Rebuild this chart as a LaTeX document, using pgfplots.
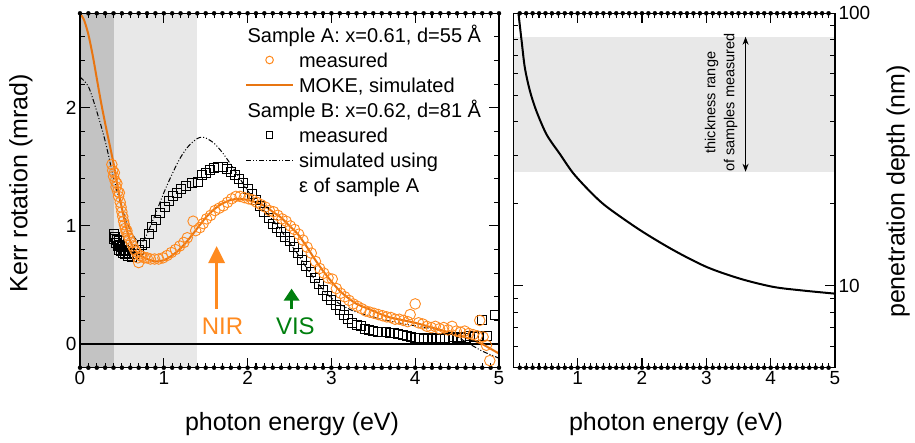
\documentclass[border=0pt]{standalone}
\usepackage{fontspec}
\setmainfont{Liberation Sans}
\usepackage{pgfplots}
\pgfplotsset{compat=1.18}
\usetikzlibrary{arrows.meta}
\definecolor{orM}{HTML}{FF8A1F}
\definecolor{orL}{HTML}{E87511}
\definecolor{gD}{HTML}{C3C3C3}
\definecolor{gL}{HTML}{E8E8E8}
\definecolor{grn}{HTML}{007F0E}
\pgfplotsset{
  common/.style={
    scale only axis,
    height=354.4pt,
    axis on top,
    /pgf/number format/assume math mode=true,
    tick label style={font=\fontsize{19}{22}\selectfont},
    label style={font=\fontsize{25}{29}\selectfont},
    axis line style={line width=1.3pt},
    major tick length=10pt,
    minor tick length=5pt,
    tick style={black, line width=1.1pt},
    tick align=inside,
    xmin=0, xmax=5,
  },
  tickbar/.style={forget plot, only marks, mark=none,
    error bars/.cd, y dir=#1, y explicit, error mark=none,
    error bar style={black, line width=1.1pt, solid}},
  legline/.style={legend image code/.code={\draw[mark repeat=2,mark phase=2,##1] plot coordinates {(0pt,0pt) (23.5pt,0pt) (47pt,0pt)};}},
  legmark/.style={legend image code/.code={\draw[##1] plot coordinates {(23.5pt,0pt)};}},
}
\begin{document}
\begin{tikzpicture}
\path[use as bounding box] (0,0) rectangle (915pt,443pt);
% ---------------- left axis
\begin{axis}[common,
  at={(80pt,75.3pt)}, anchor=south west,
  width=419pt,
  ymin=-0.2, ymax=2.8,
  xtick={0,1,2,3,4,5},
  ytick={0,1,2},
  minor ytick={-0.2,0.2,0.4,0.6,0.8,1.2,1.4,1.6,1.8,2.2,2.4,2.6},
  ytick pos=both,
  xlabel={photon energy (eV)},
  ylabel={Kerr rotation (mrad)},
  xlabel style={at={(axis description cs:0.506,-0.160)}, anchor=center},
  ylabel style={at={(axis description cs:-0.141,0.52)}, anchor=center},
  legend cell align=left,
  legline,
  legend style={draw=none, fill=none, inner sep=0pt, outer sep=0pt,
    at={(axis description cs:0.394,0.974)}, anchor=north west,
    font=\fontsize{20}{24}\selectfont, column sep=5pt, row sep=0pt,
    nodes={inner sep=0pt, text height=19.5pt, text depth=5.5pt}},
]
% shaded regions
\addplot[fill=gD, draw=none, forget plot] coordinates {(0,-0.2) (0.4,-0.2) (0.4,2.8) (0,2.8)} -- cycle;
\addplot[fill=gL, draw=none, forget plot] coordinates {(0.4,-0.2) (1.4,-0.2) (1.4,2.8) (0.4,2.8)} -- cycle;
% x tick marks (bottom and top)
\addplot[tickbar=plus] coordinates {
(0,-0.2) +- (0,0.0847) (1,-0.2) +- (0,0.0847) (2,-0.2) +- (0,0.0847) (3,-0.2) +- (0,0.0847) (4,-0.2) +- (0,0.0847) (5,-0.2) +- (0,0.0847)
};
\addplot[tickbar=plus] coordinates {
(0.1,-0.2) +- (0,0.0423) (0.2,-0.2) +- (0,0.0423) (0.3,-0.2) +- (0,0.0423) (0.4,-0.2) +- (0,0.0423) (0.5,-0.2) +- (0,0.0423)
(0.6,-0.2) +- (0,0.0423) (0.7,-0.2) +- (0,0.0423) (0.8,-0.2) +- (0,0.0423) (0.9,-0.2) +- (0,0.0423)
(1.1,-0.2) +- (0,0.0423) (1.2,-0.2) +- (0,0.0423) (1.3,-0.2) +- (0,0.0423) (1.4,-0.2) +- (0,0.0423) (1.5,-0.2) +- (0,0.0423)
(1.6,-0.2) +- (0,0.0423) (1.7,-0.2) +- (0,0.0423) (1.8,-0.2) +- (0,0.0423) (1.9,-0.2) +- (0,0.0423)
(2.1,-0.2) +- (0,0.0423) (2.2,-0.2) +- (0,0.0423) (2.3,-0.2) +- (0,0.0423) (2.4,-0.2) +- (0,0.0423) (2.5,-0.2) +- (0,0.0423)
(2.6,-0.2) +- (0,0.0423) (2.7,-0.2) +- (0,0.0423) (2.8,-0.2) +- (0,0.0423) (2.9,-0.2) +- (0,0.0423)
(3.1,-0.2) +- (0,0.0423) (3.2,-0.2) +- (0,0.0423) (3.3,-0.2) +- (0,0.0423) (3.4,-0.2) +- (0,0.0423) (3.5,-0.2) +- (0,0.0423)
(3.6,-0.2) +- (0,0.0423) (3.7,-0.2) +- (0,0.0423) (3.8,-0.2) +- (0,0.0423) (3.9,-0.2) +- (0,0.0423)
(4.1,-0.2) +- (0,0.0423) (4.2,-0.2) +- (0,0.0423) (4.3,-0.2) +- (0,0.0423) (4.4,-0.2) +- (0,0.0423) (4.5,-0.2) +- (0,0.0423)
(4.6,-0.2) +- (0,0.0423) (4.7,-0.2) +- (0,0.0423) (4.8,-0.2) +- (0,0.0423) (4.9,-0.2) +- (0,0.0423)
};
\addplot[tickbar=minus] coordinates {
(0,2.8) +- (0,0.0847) (1,2.8) +- (0,0.0847) (2,2.8) +- (0,0.0847) (3,2.8) +- (0,0.0847) (4,2.8) +- (0,0.0847) (5,2.8) +- (0,0.0847)
};
\addplot[tickbar=minus] coordinates {
(0.1,2.8) +- (0,0.0423) (0.2,2.8) +- (0,0.0423) (0.3,2.8) +- (0,0.0423) (0.4,2.8) +- (0,0.0423) (0.5,2.8) +- (0,0.0423)
(0.6,2.8) +- (0,0.0423) (0.7,2.8) +- (0,0.0423) (0.8,2.8) +- (0,0.0423) (0.9,2.8) +- (0,0.0423)
(1.1,2.8) +- (0,0.0423) (1.2,2.8) +- (0,0.0423) (1.3,2.8) +- (0,0.0423) (1.4,2.8) +- (0,0.0423) (1.5,2.8) +- (0,0.0423)
(1.6,2.8) +- (0,0.0423) (1.7,2.8) +- (0,0.0423) (1.8,2.8) +- (0,0.0423) (1.9,2.8) +- (0,0.0423)
(2.1,2.8) +- (0,0.0423) (2.2,2.8) +- (0,0.0423) (2.3,2.8) +- (0,0.0423) (2.4,2.8) +- (0,0.0423) (2.5,2.8) +- (0,0.0423)
(2.6,2.8) +- (0,0.0423) (2.7,2.8) +- (0,0.0423) (2.8,2.8) +- (0,0.0423) (2.9,2.8) +- (0,0.0423)
(3.1,2.8) +- (0,0.0423) (3.2,2.8) +- (0,0.0423) (3.3,2.8) +- (0,0.0423) (3.4,2.8) +- (0,0.0423) (3.5,2.8) +- (0,0.0423)
(3.6,2.8) +- (0,0.0423) (3.7,2.8) +- (0,0.0423) (3.8,2.8) +- (0,0.0423) (3.9,2.8) +- (0,0.0423)
(4.1,2.8) +- (0,0.0423) (4.2,2.8) +- (0,0.0423) (4.3,2.8) +- (0,0.0423) (4.4,2.8) +- (0,0.0423) (4.5,2.8) +- (0,0.0423)
(4.6,2.8) +- (0,0.0423) (4.7,2.8) +- (0,0.0423) (4.8,2.8) +- (0,0.0423) (4.9,2.8) +- (0,0.0423)
};
% zero line
\addplot[black, line width=1.3pt, forget plot] coordinates {(0,0) (5,0)};
% legend entries
\addlegendimage{empty legend}
\addlegendentry{\makebox[0pt][l]{\hspace*{-52pt}Sample A: x=0.61, d=55 Å}}
\addlegendimage{mark=o, draw=orM, line width=1pt, mark size=3.8pt, legmark}
\addlegendentry{measured}
\addlegendimage{orL, line width=2pt, legline}
\addlegendentry{MOKE, simulated}
\addlegendimage{empty legend}
\addlegendentry{\makebox[0pt][l]{\hspace*{-52pt}Sample B: x=0.62, d=81 Å}}
\addlegendimage{mark=square, draw=black, line width=1pt, mark size=3.3pt, legmark}
\addlegendentry{measured}
\addlegendimage{black, line width=1pt, dash pattern=on 5pt off 2pt on 1pt off 2pt on 1pt off 2pt, legline}
\addlegendentry{simulated using}
\addlegendimage{empty legend}
\addlegendentry{ε of sample A}
% sample B measured (squares)
\addplot[only marks, mark=square, mark size=4.5pt, draw=black, line width=0.9pt, forget plot] coordinates {
(0.40,0.93) (0.41,0.89) (0.42,0.91) (0.43,0.86) (0.44,0.88) (0.45,0.83) (0.46,0.87) (0.47,0.80)
(0.48,0.84) (0.49,0.79) (0.50,0.82) (0.51,0.77) (0.52,0.80) (0.54,0.76) (0.55,0.79) (0.57,0.75)
(0.59,0.77) (0.62,0.74) (0.66,0.76) (0.70,0.80) (0.74,0.84) (0.78,0.86) (0.82,0.93) (0.86,0.99)
(0.91,1.05) (0.96,1.11) (1.01,1.16) (1.06,1.21) (1.11,1.25) (1.16,1.28) (1.21,1.31) (1.27,1.34)
(1.33,1.36) (1.41,1.37) (1.45,1.43) (1.50,1.45) (1.55,1.47) (1.60,1.49) (1.65,1.50) (1.70,1.50)
(1.75,1.48) (1.80,1.46) (1.85,1.43) (1.90,1.40) (1.95,1.36) (2.00,1.31) (2.05,1.27) (2.10,1.22)
(2.15,1.17) (2.20,1.12) (2.25,1.07) (2.30,1.02) (2.35,0.98) (2.40,0.95) (2.45,0.91) (2.50,0.87)
(2.55,0.82) (2.60,0.77) (2.65,0.71) (2.70,0.66) (2.75,0.61) (2.80,0.56) (2.85,0.51) (2.90,0.46)
(2.95,0.41) (3.00,0.37) (3.05,0.33) (3.10,0.29) (3.15,0.25) (3.20,0.21) (3.25,0.18) (3.30,0.16)
(3.35,0.15) (3.40,0.13) (3.45,0.12) (3.50,0.11) (3.55,0.10) (3.60,0.10) (3.65,0.10) (3.70,0.09)
(3.75,0.09) (3.80,0.085) (3.85,0.08) (3.90,0.07) (3.95,0.06) (4.00,0.05) (4.05,0.05) (4.10,0.04)
(4.15,0.05) (4.20,0.04) (4.25,0.05) (4.30,0.04) (4.35,0.05) (4.40,0.04) (4.45,0.06) (4.50,0.05)
(4.55,0.06) (4.60,0.05) (4.65,0.07) (4.70,0.06) (4.76,0.07) (4.80,0.20) (4.86,0.07) (4.95,0.25)
};
% simulated using eps of sample A (dash-dot-dot)
\addplot[black, line width=1pt, dash pattern=on 5pt off 2pt on 1pt off 2pt on 1pt off 2pt, smooth, forget plot] coordinates {
(0,2.26) (0.1,2.18) (0.2,1.97) (0.3,1.72) (0.4,1.41) (0.5,1.15) (0.6,0.96) (0.7,0.86) (0.75,0.87)
(0.8,0.93) (0.9,1.10) (1.0,1.28) (1.1,1.44) (1.2,1.58) (1.3,1.68) (1.4,1.74) (1.45,1.75) (1.5,1.745)
(1.6,1.70) (1.7,1.62) (1.8,1.52) (1.9,1.41) (2.0,1.30) (2.1,1.21) (2.2,1.13) (2.3,1.05) (2.4,0.96)
(2.5,0.86) (2.6,0.76) (2.7,0.65) (2.8,0.55) (2.9,0.46) (3.0,0.39) (3.1,0.34) (3.2,0.30) (3.3,0.27)
(3.4,0.25) (3.5,0.23) (3.6,0.21) (3.7,0.195) (3.8,0.18) (3.9,0.165) (4.0,0.155) (4.2,0.13) (4.4,0.10)
(4.6,0.02) (4.7,-0.02) (4.8,-0.06) (4.9,-0.09) (5.0,-0.12)
};
% sample A measured (circles)
\addplot[only marks, mark=o, mark size=5.3pt, draw=orM, line width=0.9pt, forget plot] coordinates {
(0.38,1.52) (0.39,1.47) (0.40,1.42) (0.41,1.45) (0.42,1.38) (0.43,1.33) (0.44,1.36) (0.45,1.29)
(0.46,1.25) (0.47,1.28) (0.48,1.20) (0.49,1.16) (0.50,1.12) (0.51,1.08) (0.52,1.04) (0.53,1.01)
(0.54,0.98) (0.55,0.95) (0.56,0.96) (0.57,0.92) (0.59,0.89) (0.61,0.86) (0.63,0.83) (0.65,0.80)
(0.67,0.78) (0.69,0.73) (0.70,0.69) (0.72,0.75) (0.74,0.74) (0.77,0.73) (0.80,0.73) (0.84,0.72)
(0.89,0.72) (0.94,0.72) (0.99,0.73) (1.04,0.75) (1.09,0.775) (1.14,0.80) (1.19,0.83) (1.24,0.86)
(1.28,0.90) (1.35,1.04) (1.38,0.96) (1.43,0.985) (1.47,1.02) (1.51,1.06) (1.56,1.09) (1.61,1.13)
(1.66,1.15) (1.71,1.17) (1.76,1.20) (1.81,1.23) (1.86,1.25) (1.91,1.25) (1.96,1.24) (2.01,1.23)
(2.06,1.22) (2.11,1.20) (2.16,1.18) (2.21,1.16) (2.26,1.13) (2.31,1.12) (2.36,1.09) (2.41,1.06)
(2.46,1.04) (2.51,1.00) (2.56,0.97) (2.61,0.93) (2.66,0.88) (2.71,0.82) (2.76,0.77) (2.81,0.70)
(2.86,0.64) (2.91,0.60) (2.96,0.56) (3.01,0.55) (3.06,0.47) (3.11,0.43) (3.16,0.40) (3.21,0.37)
(3.26,0.34) (3.31,0.32) (3.36,0.30) (3.41,0.28) (3.46,0.27) (3.51,0.26) (3.56,0.25) (3.61,0.24)
(3.66,0.23) (3.71,0.225) (3.76,0.21) (3.81,0.21) (3.86,0.20) (3.91,0.19) (3.94,0.25) (4.00,0.34)
(4.04,0.18) (4.09,0.17) (4.14,0.15) (4.19,0.14) (4.24,0.15) (4.29,0.13) (4.34,0.14) (4.39,0.12)
(4.44,0.15) (4.49,0.11) (4.54,0.10) (4.59,0.11) (4.64,0.09) (4.69,0.08) (4.74,0.07) (4.77,0.20)
(4.81,0.06) (4.85,-0.01) (4.89,-0.14)
};
% MOKE simulated (orange line)
\addplot[orL, line width=2pt, smooth, forget plot] coordinates {
(0,2.80) (0.05,2.74) (0.1,2.62) (0.15,2.45) (0.2,2.25) (0.25,2.05) (0.3,1.87) (0.35,1.70) (0.4,1.53)
(0.45,1.33) (0.5,1.15) (0.55,0.99) (0.6,0.87) (0.65,0.80) (0.7,0.76) (0.8,0.72) (0.9,0.70) (1.0,0.71)
(1.1,0.75) (1.2,0.81) (1.3,0.89) (1.4,0.98) (1.5,1.07) (1.6,1.14) (1.7,1.19) (1.8,1.22) (1.9,1.23)
(2.0,1.22) (2.1,1.20) (2.2,1.17) (2.3,1.12) (2.4,1.07) (2.5,1.00) (2.6,0.93) (2.7,0.83) (2.8,0.72)
(2.9,0.62) (3.0,0.53) (3.1,0.45) (3.2,0.39) (3.3,0.34) (3.4,0.31) (3.5,0.28) (3.6,0.25) (3.7,0.225)
(3.8,0.21) (3.9,0.195) (4.0,0.18) (4.1,0.16) (4.2,0.14) (4.3,0.12) (4.4,0.10) (4.5,0.08) (4.6,0.056)
(4.7,0.03) (4.8,0.0) (4.9,-0.04) (5.0,-0.08)
};
% arrows and labels
\draw[orM, line width=3pt, -{Triangle[width=16pt,length=17pt]}] (axis cs:1.63,0.30) -- (axis cs:1.63,0.83);
\draw[grn, line width=3pt, -{Triangle[width=15pt,length=12pt]}] (axis cs:2.525,0.30) -- (axis cs:2.525,0.47);
\node[orM, font=\fontsize{24}{28}\selectfont] at (axis cs:1.70,0.148) {NIR};
\node[grn, font=\fontsize{24}{28}\selectfont] at (axis cs:2.57,0.148) {VIS};
\end{axis}
% ---------------- right axis
\begin{axis}[common,
  at={(513.3pt,75.3pt)}, anchor=south west,
  width=321.7pt,
  ymode=log, ymin=5, ymax=100,
  log ticks with fixed point,
  ytick={10,100},
  minor ytick={6,7,8,9,20,30,40,50,60,70,80,90},
  xtick={0,1,2,3,4,5},
  xticklabels={,1,2,3,4,5},
  ytick pos=both, yticklabel pos=right,
  xlabel={photon energy (eV)},
  ylabel={penetration depth (nm)},
  xlabel style={at={(axis description cs:0.506,-0.160)}, anchor=center},
  ylabel style={at={(axis description cs:1.196,0.4975)}, anchor=center},
]
\addplot[fill=gL, draw=none, forget plot] coordinates {(0,26.2) (5,26.2) (5,82) (0,82)} -- cycle;
\addplot[tickbar=plus] coordinates {
(1,5) +- (0,0.44) (2,5) +- (0,0.44) (3,5) +- (0,0.44) (4,5) +- (0,0.44)
};
\addplot[tickbar=plus] coordinates {
(0.1,5) +- (0,0.216) (0.2,5) +- (0,0.216) (0.3,5) +- (0,0.216) (0.4,5) +- (0,0.216) (0.5,5) +- (0,0.216)
(0.6,5) +- (0,0.216) (0.7,5) +- (0,0.216) (0.8,5) +- (0,0.216) (0.9,5) +- (0,0.216)
(1.1,5) +- (0,0.216) (1.2,5) +- (0,0.216) (1.3,5) +- (0,0.216) (1.4,5) +- (0,0.216) (1.5,5) +- (0,0.216)
(1.6,5) +- (0,0.216) (1.7,5) +- (0,0.216) (1.8,5) +- (0,0.216) (1.9,5) +- (0,0.216)
(2.1,5) +- (0,0.216) (2.2,5) +- (0,0.216) (2.3,5) +- (0,0.216) (2.4,5) +- (0,0.216) (2.5,5) +- (0,0.216)
(2.6,5) +- (0,0.216) (2.7,5) +- (0,0.216) (2.8,5) +- (0,0.216) (2.9,5) +- (0,0.216)
(3.1,5) +- (0,0.216) (3.2,5) +- (0,0.216) (3.3,5) +- (0,0.216) (3.4,5) +- (0,0.216) (3.5,5) +- (0,0.216)
(3.6,5) +- (0,0.216) (3.7,5) +- (0,0.216) (3.8,5) +- (0,0.216) (3.9,5) +- (0,0.216)
(4.1,5) +- (0,0.216) (4.2,5) +- (0,0.216) (4.3,5) +- (0,0.216) (4.4,5) +- (0,0.216) (4.5,5) +- (0,0.216)
(4.6,5) +- (0,0.216) (4.7,5) +- (0,0.216) (4.8,5) +- (0,0.216) (4.9,5) +- (0,0.216)
};
\addplot[tickbar=minus] coordinates {
(1,100) +- (0,8.1) (2,100) +- (0,8.1) (3,100) +- (0,8.1) (4,100) +- (0,8.1)
};
\addplot[tickbar=minus] coordinates {
(0.1,100) +- (0,4.14) (0.2,100) +- (0,4.14) (0.3,100) +- (0,4.14) (0.4,100) +- (0,4.14) (0.5,100) +- (0,4.14)
(0.6,100) +- (0,4.14) (0.7,100) +- (0,4.14) (0.8,100) +- (0,4.14) (0.9,100) +- (0,4.14)
(1.1,100) +- (0,4.14) (1.2,100) +- (0,4.14) (1.3,100) +- (0,4.14) (1.4,100) +- (0,4.14) (1.5,100) +- (0,4.14)
(1.6,100) +- (0,4.14) (1.7,100) +- (0,4.14) (1.8,100) +- (0,4.14) (1.9,100) +- (0,4.14)
(2.1,100) +- (0,4.14) (2.2,100) +- (0,4.14) (2.3,100) +- (0,4.14) (2.4,100) +- (0,4.14) (2.5,100) +- (0,4.14)
(2.6,100) +- (0,4.14) (2.7,100) +- (0,4.14) (2.8,100) +- (0,4.14) (2.9,100) +- (0,4.14)
(3.1,100) +- (0,4.14) (3.2,100) +- (0,4.14) (3.3,100) +- (0,4.14) (3.4,100) +- (0,4.14) (3.5,100) +- (0,4.14)
(3.6,100) +- (0,4.14) (3.7,100) +- (0,4.14) (3.8,100) +- (0,4.14) (3.9,100) +- (0,4.14)
(4.1,100) +- (0,4.14) (4.2,100) +- (0,4.14) (4.3,100) +- (0,4.14) (4.4,100) +- (0,4.14) (4.5,100) +- (0,4.14)
(4.6,100) +- (0,4.14) (4.7,100) +- (0,4.14) (4.8,100) +- (0,4.14) (4.9,100) +- (0,4.14)
};
\addplot[black, line width=2pt, smooth, forget plot] coordinates {
(0.08,100) (0.13,78.9) (0.18,63) (0.26,51.7) (0.36,43.7) (0.52,35.8) (0.73,30.3) (0.93,25.9)
(1.19,22.2) (1.45,19.5) (1.97,16.0) (2.49,13.5) (3.01,11.7) (3.53,10.6) (4.04,9.9) (4.5,9.6) (5.0,9.35)
};
\draw[line width=1pt, {Stealth[length=8pt,width=6pt]}-{Stealth[length=8pt,width=6pt]}] (axis cs:3.61,82) -- (axis cs:3.61,26.2);
\node[rotate=90, align=center, font=\fontsize{14.5}{19}\selectfont] at (axis cs:3.23,47) {thickness range\\of samples measured};
\end{axis}
\end{tikzpicture}
\end{document}
